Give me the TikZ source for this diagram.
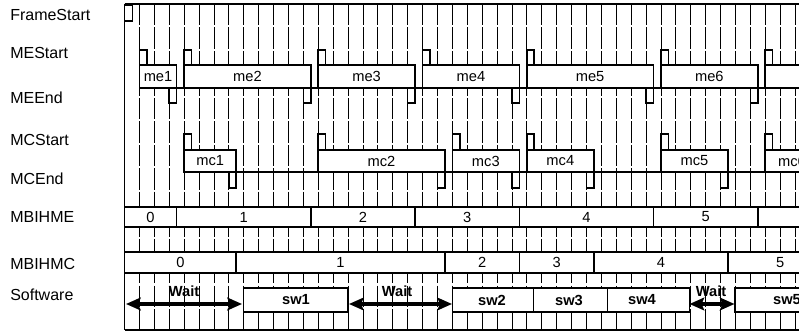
\documentclass[tikz,border=0pt]{standalone}
\usepackage{fontspec}
\setmainfont{Liberation Sans}
\usetikzlibrary{arrows.meta}
\newcommand{\gridx}[1]{124.5+14.9*(#1)}
\begin{document}
\begin{tikzpicture}[x=0.75pt,y=-0.75pt,
  gridl/.style={line width=0.6pt,dash pattern=on 16pt off 1.6pt},
  frame/.style={line width=1.2pt},
  sig/.style={line width=1.2pt},
  box/.style={draw,line width=1.2pt,fill=white},
  lbl/.style={anchor=west,inner sep=0pt,font=\fontsize{12}{14}\selectfont},
  txt/.style={inner sep=0pt,font=\fontsize{11}{13}\selectfont},
  btxt/.style={inner sep=0pt,font=\bfseries\fontsize{11}{13}\selectfont},
  waitarrow/.style={line width=2.6pt,{Stealth[length=11pt,width=9.5pt,inset=2pt]}-{Stealth[length=11pt,width=9.5pt,inset=2pt]}}
]
\useasboundingbox (0,0) rectangle (799,334);
\fill[white] (0,0) rectangle (799,334);

% row labels
\node[lbl] (lFS) at (10,14.7) {FrameStart};
\node[lbl] (lMES) at (10,52.5) {MEStart};
\node[lbl] (lMEE) at (10,97.5) {MEEnd};
\node[lbl] (lMCS) at (10,140) {MCStart};
\node[lbl] (lMCE) at (10,179) {MCEnd};
\node[lbl] (lBME) at (10,216.5) {MBIHME};
\node[lbl] (lBMC) at (10,263.5) {MBIHMC};
\node[lbl] (lSW) at (10,295) {Software};

\begin{scope}
\clip (0,0) rectangle (799,334);
% grid
\foreach \k in {1,...,45}
  \draw[gridl] ({\gridx{\k}},4) -- ({\gridx{\k}},330);
% frame
\draw[frame] (124.5,4) -- (820,4);
\draw[frame] (124.5,4) -- (124.5,330);
\draw[frame] (124.5,330) -- (820,330);

% FrameStart pulse
\draw[sig] (124.5,21) rectangle (132.5,5);

% ME row
\draw[sig] ({\gridx{1}},88) -- (820,88);
\foreach \s/\e/\t in {1/3.5/me1,4/12.5/me2,13/19.5/me3,20/26.5/me4,27/35.5/me5,36/42.5/me6}{
  \draw[box] ({\gridx{\s}},65) rectangle ({\gridx{\e}},88);
  \draw[sig] ({\gridx{\s}},65) -- ({\gridx{\s}},50) -- ({\gridx{\s+0.5}},50) -- ({\gridx{\s+0.5}},65);
  \draw[sig] ({\gridx{\e-0.5}},88) -- ({\gridx{\e-0.5}},103) -- ({\gridx{\e}},103) -- ({\gridx{\e}},88);
  \node[txt] (\t) at ({\gridx{(\s+\e)/2}},76.5) {\t};
}
\draw[box] ({\gridx{43}},65) rectangle (830,88);
\draw[sig] ({\gridx{43}},65) -- ({\gridx{43}},50) -- ({\gridx{43.5}},50) -- ({\gridx{43.5}},65);

% MC row
\draw[sig] ({\gridx{4}},172) -- (820,172);
\foreach \s/\e/\t in {4/7.5/mc1,13/21.5/mc2,22/26.5/mc3,27/31.5/mc4,36/40.5/mc5}{
  \draw[box] ({\gridx{\s}},150) rectangle ({\gridx{\e}},172);
  \draw[sig] ({\gridx{\s}},150) -- ({\gridx{\s}},134) -- ({\gridx{\s+0.5}},134) -- ({\gridx{\s+0.5}},150);
  \draw[sig] ({\gridx{\e-0.5}},172) -- ({\gridx{\e-0.5}},188) -- ({\gridx{\e}},188) -- ({\gridx{\e}},172);
  \node[txt] (\t) at ({\gridx{(\s+\e)/2}},161) {\t};
}
\draw[box] ({\gridx{43}},150) rectangle (830,172);
\draw[sig] ({\gridx{43}},150) -- ({\gridx{43}},134) -- ({\gridx{43.5}},134) -- ({\gridx{43.5}},150);
\node[txt] (mc6) at (792,161) {mc6};

% MBIHME bus
\foreach \s/\e/\t [count=\i] in {0/3.5/0,3.5/12.5/1,12.5/19.5/2,19.5/26.5/3,26.5/35.5/4,35.5/42.5/5}{
  \draw[box] ({\gridx{\s}},207) rectangle ({\gridx{\e}},227);
  \node[txt] (bme\i) at ({\gridx{(\s+\e)/2}},217) {\t};
}
\draw[box] ({\gridx{42.5}},207) rectangle (830,227);

% MBIHMC bus
\foreach \s/\e/\t [count=\i] in {0/7.5/0,7.5/21.5/1,21.5/26.5/2,26.5/31.5/3,31.5/40.5/4}{
  \draw[box] ({\gridx{\s}},252) rectangle ({\gridx{\e}},273);
  \node[txt] (bmc\i) at ({\gridx{(\s+\e)/2}},262.5) {\t};
}
\draw[box] ({\gridx{40.5}},252) rectangle (830,273);
\node[txt] (bmc6) at ({\gridx{44}},262.5) {5};

% Software row
\draw[box] (243.5,288) rectangle (348,312);
\draw[box] (452.5,288) rectangle (533.3,312);
\draw[box] (533.3,288) rectangle (607.3,312);
\draw[box] (607.3,288) rectangle (689.3,312);
\draw[box] (735,288) rectangle (840,312);
\node[btxt] (sw1) at (296,300) {sw1};
\node[btxt] (sw2) at (492,300) {sw2};
\node[btxt] (sw3) at (569,300) {sw3};
\node[btxt] (sw4) at (642,300) {sw4};
\node[btxt] (sw5) at (787,300) {sw5};

\coordinate (w1a) at (126,304);
\coordinate (w1b) at (242,304);
\coordinate (w2a) at (349,304);
\coordinate (w2b) at (452,304);
\coordinate (w3a) at (689.5,304);
\coordinate (w3b) at (734.5,304);
\draw[waitarrow] (w1a) -- (w1b);
\draw[waitarrow] (w2a) -- (w2b);
\draw[waitarrow] (w3a) -- (w3b);
\node[btxt] (wait1) at (184,291.5) {Wait};
\node[btxt] (wait2) at (397,291.5) {Wait};
\node[btxt] (wait3) at (711,291.5) {Wait};
\end{scope}
\end{tikzpicture}
\end{document}
